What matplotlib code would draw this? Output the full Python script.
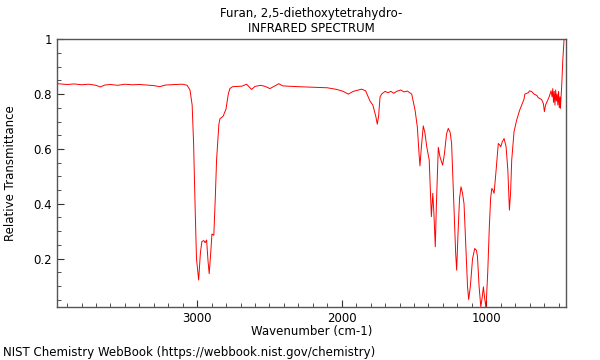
import matplotlib
matplotlib.use("Agg")
import matplotlib.pyplot as plt
from matplotlib.ticker import MultipleLocator, FuncFormatter

# IR spectrum (wavenumber in cm-1, relative transmittance)
wavenumber = [
    3970, 3900, 3850, 3800, 3750, 3700, 3670, 3640, 3600, 3550, 3500, 3450,
    3400, 3350, 3300, 3260, 3220, 3150, 3100, 3070, 3050, 3035, 3025, 3015,
    3005, 2990, 2978, 2968, 2955, 2945, 2935, 2925, 2917, 2908, 2898, 2885,
    2875, 2866, 2850, 2843, 2830, 2820, 2801, 2785, 2774, 2755, 2720, 2690,
    2658, 2640, 2624, 2600, 2560, 2530, 2497, 2470, 2435, 2410, 2380, 2300,
    2200, 2100, 2035, 1990, 1955, 1920, 1862, 1835, 1805, 1785, 1765, 1754,
    1745, 1735, 1724, 1700, 1680, 1660, 1640, 1620, 1592, 1570, 1545, 1530,
    1516, 1493, 1477, 1465, 1459, 1450, 1436, 1425, 1412, 1395, 1387, 1380,
    1370, 1362, 1353, 1345, 1332, 1320, 1302, 1290, 1275, 1263, 1250, 1240,
    1225, 1212, 1205, 1195, 1185, 1175, 1165, 1154, 1140, 1130, 1122, 1110,
    1095, 1080, 1068, 1061, 1050, 1038, 1028, 1020, 1010, 1002, 990, 979,
    970, 962, 954, 946, 932, 917, 908, 900, 890, 877, 863, 851,
    840, 832, 824, 808, 790, 770, 755, 740, 733, 710, 700, 686,
    670, 650, 641, 617, 605, 598, 590, 580, 565, 552, 545, 540,
    535, 530, 525, 520, 515, 510, 505, 500, 495, 490, 487, 478,
    471, 462,
]
transmittance = [
    0.838, 0.835, 0.837, 0.834, 0.836, 0.832, 0.826, 0.833, 0.835, 0.832, 0.836, 0.834,
    0.835, 0.833, 0.831, 0.827, 0.833, 0.835, 0.836, 0.832, 0.815, 0.76, 0.62, 0.40,
    0.20, 0.122, 0.22, 0.262, 0.266, 0.258, 0.268, 0.19, 0.145, 0.21, 0.29, 0.285,
    0.42, 0.56, 0.69, 0.71, 0.715, 0.72, 0.745, 0.80, 0.82, 0.827, 0.828, 0.829,
    0.836, 0.826, 0.817, 0.828, 0.832, 0.828, 0.82, 0.828, 0.838, 0.83, 0.829, 0.827,
    0.825, 0.823, 0.817, 0.81, 0.80, 0.81, 0.818, 0.812, 0.775, 0.76, 0.72, 0.69,
    0.72, 0.79, 0.80, 0.81, 0.805, 0.81, 0.803, 0.81, 0.815, 0.808, 0.811, 0.805,
    0.80, 0.742, 0.68, 0.58, 0.538, 0.60, 0.684, 0.66, 0.608, 0.56, 0.45, 0.353,
    0.438, 0.36, 0.243, 0.40, 0.606, 0.57, 0.541, 0.58, 0.655, 0.675, 0.66, 0.62,
    0.40, 0.22, 0.158, 0.30, 0.42, 0.462, 0.44, 0.40, 0.22, 0.10, 0.051, 0.10,
    0.20, 0.237, 0.23, 0.207, 0.10, 0.024, 0.06, 0.097, 0.05, 0.02, 0.15, 0.316,
    0.42, 0.456, 0.45, 0.438, 0.523, 0.62, 0.615, 0.608, 0.625, 0.638, 0.608, 0.523,
    0.377, 0.44, 0.56, 0.663, 0.705, 0.74, 0.76, 0.78, 0.80, 0.805, 0.812, 0.809,
    0.80, 0.795, 0.787, 0.78, 0.765, 0.736, 0.76, 0.772, 0.79, 0.812, 0.79, 0.82,
    0.77, 0.81, 0.76, 0.815, 0.775, 0.80, 0.76, 0.81, 0.75, 0.79, 0.748, 0.833,
    0.92, 1.0,
]

fig = plt.figure(figsize=(6, 3.6), dpi=100)
ax = fig.add_axes([0.095, 0.146, 0.8475, 0.745])

ax.plot(wavenumber, transmittance, color="#ff0000", lw=0.7)

ax.set_xlim(3970, 452)
ax.set_ylim(0.022, 1.0)

ax.xaxis.set_major_locator(MultipleLocator(1000))
ax.xaxis.set_minor_locator(MultipleLocator(100))
ax.yaxis.set_major_locator(MultipleLocator(0.2))
ax.yaxis.set_minor_locator(MultipleLocator(0.05))
ax.yaxis.set_major_formatter(FuncFormatter(lambda v, p: "%g" % round(v, 2)))

ax.tick_params(which="both", direction="in", top=False, right=False,
               labelsize=8.5, color="#333333")
ax.tick_params(which="major", length=5)
ax.tick_params(which="minor", length=3)
for s in ax.spines.values():
    s.set_color("#555555")
    s.set_linewidth(1.0)

ax.set_xlabel("Wavenumber (cm-1)", fontsize=8.5, labelpad=0)
ax.set_ylabel("Relative Transmittance", fontsize=8.5, labelpad=12)
ax.set_title("Furan, 2,5-diethoxytetrahydro-\nINFRARED SPECTRUM", fontsize=8.5, pad=5)

fig.text(0.005, 0.022, "NIST Chemistry WebBook (https://webbook.nist.gov/chemistry)",
         fontsize=8.5, va="center")

fig.savefig("out.png", dpi=100)
